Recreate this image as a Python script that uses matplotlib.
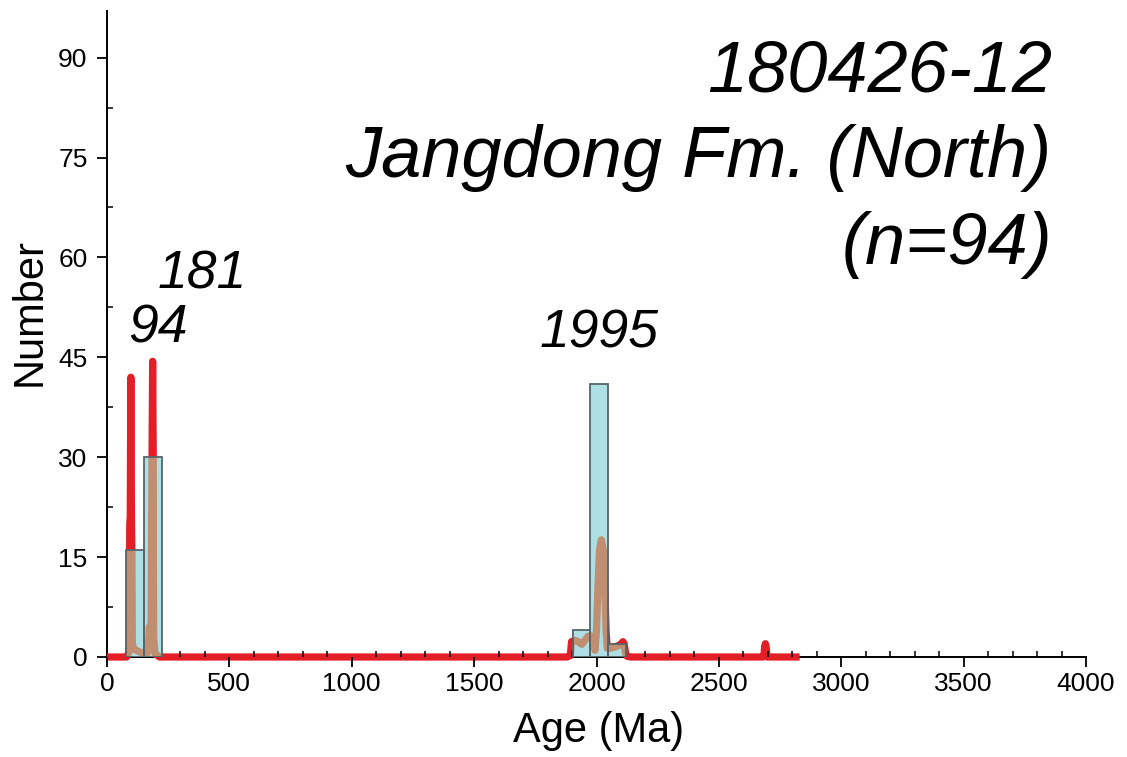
import matplotlib
matplotlib.use("Agg")
import matplotlib.pyplot as plt
from matplotlib.patches import Rectangle
from matplotlib.path import Path
from matplotlib.ticker import MultipleLocator

# ---- data ----
bin_left = [77, 150, 1902, 1975, 2048]
bin_width = 73
bin_count = [16, 30, 4, 41, 2]

kde_age = [0, 80, 90, 93, 95, 97.5, 100, 102, 103.5, 110, 125, 145, 165, 170, 173,
           180, 184, 186.5, 189, 190.5, 196, 215, 1880, 1893, 1898, 1910, 1925, 1940,
           1955, 1965, 1975, 1985, 1994, 2000, 2006, 2012, 2020, 2028, 2034, 2039,
           2044, 2055, 2075, 2095, 2103, 2108, 2113, 2119, 2125, 2140, 2680, 2684,
           2687, 2690, 2693, 2697, 2830]
kde_val = [0, 0, 0.8, 20, 21, 42, 21, 15, 2, 1.2, 0.9, 0.6, 0.6, 2, 4.5,
           5, 30, 44.4, 30, 3, 0.5, 0, 0, 0.2, 2.3, 2.5, 2.3, 1.9,
           2.6, 3.1, 3.2, 2.5, 1.0, 4, 10.6, 16, 17.6, 16, 10.6, 4,
           1.3, 1.3, 1.5, 1.8, 2.1, 2.3, 2.0, 0.5, 0.1, 0, 0, 0.1,
           1.6, 2.0, 1.6, 0, 0]

peak_labels = ["94", "181", "1995"]
peak_label_x = [86, 208, 1769]
peak_label_y = [47.2, 55.4, 46.4]

title_lines = ["180426-12", "Jangdong Fm. (North)", "(n=94)"]
title_y = [84.9, 72.0, 59.0]

xticks = [0, 500, 1000, 1500, 2000, 2500, 3000, 3500, 4000]
yticks = [0, 15, 30, 45, 60, 75, 90]

RED = "#E41E26"
CYAN = "#ADDFE5"
BROWN = "#C08E70"
EDGE = "#56656A"

plt.rcParams['font.family'] = ['Liberation Sans', 'DejaVu Sans']

fig = plt.figure(figsize=(11.27, 7.57), dpi=100)
ax = fig.add_axes([107/1127, 100/757, 979/1127, 646/757])
ax.set_xlim(0, 4000)
ax.set_ylim(0, 97)

# red KDE line
ax.plot(kde_age, kde_val, color=RED, lw=5.2, solid_joinstyle='round',
        solid_capstyle='butt', zorder=1, clip_on=False)

# bars (faces)
rects = []
for l, c in zip(bin_left, bin_count):
    r = Rectangle((l, 0), bin_width, c, facecolor=CYAN, edgecolor='none', zorder=2)
    ax.add_patch(r)
    rects.append(r)

# line seen through bars (brown), clipped to bars
brown, = ax.plot(kde_age, kde_val, color=BROWN, lw=5.2, solid_joinstyle='round',
                 solid_capstyle='butt', zorder=3)
paths = [r.get_path().transformed(r.get_patch_transform()) for r in rects]
compound = Path.make_compound_path(*paths)
brown.set_clip_path(compound, ax.transData)

# bar edges
for l, c in zip(bin_left, bin_count):
    ax.add_patch(Rectangle((l, 0), bin_width, c, fill=False, edgecolor=EDGE,
                           lw=1.3, zorder=4))

# spines / ticks
for s in ['top', 'right']:
    ax.spines[s].set_visible(False)
for s in ['left', 'bottom']:
    ax.spines[s].set_linewidth(1.4)
    ax.spines[s].set_zorder(0.5)

ax.set_xticks(xticks)
ax.set_yticks(yticks)
ax.xaxis.set_minor_locator(MultipleLocator(100))
ax.yaxis.set_minor_locator(MultipleLocator(7.5))
ax.tick_params(axis='both', which='major', direction='out', length=7, width=1.3,
               labelsize=19, pad=4)
ax.tick_params(axis='both', which='minor', direction='in', length=4, width=1.1)
ax.tick_params(axis='y', which='major', pad=7)

fig.text(599/1127, (757-731)/757, "Age (Ma)", fontsize=30, ha='center', va='center')
fig.text(30/1127, (757-312)/757, "Number", fontsize=30, ha='center', va='center',
         rotation=90)

for t, x, y in zip(peak_labels, peak_label_x, peak_label_y):
    ax.text(x, y, t, fontsize=38.5, style='italic', ha='left', va='baseline', zorder=5)

for t, y in zip(title_lines, title_y):
    ax.text(3860, y, t, fontsize=52, style='italic', ha='right', va='baseline', zorder=5)

fig.savefig("out.png", dpi=100)
